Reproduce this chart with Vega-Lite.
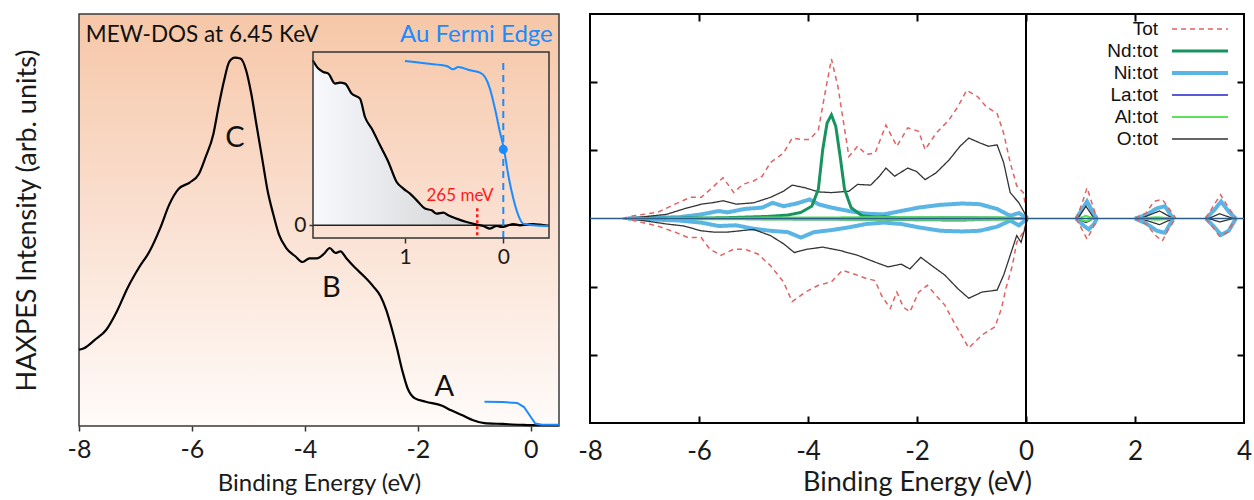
{
  "$schema": "https://vega.github.io/schema/vega-lite/v6.json",
  "padding": {"left": 12, "top": 12, "right": 2, "bottom": 0},
  "background": "white",
  "bounds": "flush",
  "spacing": 31,
  "resolve": {
    "scale": {"color": "independent", "strokeDash": "independent", "strokeWidth": "independent"},
    "legend": {"color": "independent", "strokeDash": "independent", "strokeWidth": "independent"}
  },
  "config": {
    "font": "Lato",
    "axis": {"grid": false, "domain": false, "labelFont": "Lato", "titleFont": "Lato", "titleFontWeight": "normal", "labelColor": "#1a1a1a", "titleColor": "#1a1a1a", "tickColor": "#333333"},
    "legend": {"orient": "none", "legendX": 600.5, "legendY": 5.5, "title": null, "symbolType": "M-5.6,0H5.6", "symbolSize": 100, "labelFont": "Liberation Sans", "labelFontSize": 19, "labelColor": "#111111", "labelAlign": "right", "labelBaseline": "middle", "labelOffset": -51.5, "rowPadding": 2, "padding": 0, "labelLimit": 200}
  },
  "datasets": {
    "haxpes": [
      {"be": -8.0, "i": 18.5}, {"be": -7.91, "i": 18.9}, {"be": -7.72, "i": 20.9}, {"be": -7.52, "i": 23.3}, {"be": -7.33, "i": 27.8},
      {"be": -7.14, "i": 33.5}, {"be": -6.94, "i": 38.4}, {"be": -6.75, "i": 42.4}, {"be": -6.56, "i": 48.1}, {"be": -6.4, "i": 53.8},
      {"be": -6.24, "i": 57.5}, {"be": -6.04, "i": 59.1}, {"be": -5.88, "i": 61.1}, {"be": -5.76, "i": 65.2}, {"be": -5.62, "i": 70.9},
      {"be": -5.53, "i": 77.4}, {"be": -5.43, "i": 83.9}, {"be": -5.34, "i": 88.4}, {"be": -5.24, "i": 89.4}, {"be": -5.14, "i": 89.2},
      {"be": -5.04, "i": 86.3}, {"be": -4.95, "i": 80.7}, {"be": -4.85, "i": 72.5}, {"be": -4.75, "i": 64.4}, {"be": -4.66, "i": 57.1},
      {"be": -4.56, "i": 51.4}, {"be": -4.46, "i": 46.5}, {"be": -4.33, "i": 43.2}, {"be": -4.17, "i": 41.2}, {"be": -4.04, "i": 39.8},
      {"be": -3.92, "i": 40.7}, {"be": -3.79, "i": 40.7}, {"be": -3.66, "i": 41.8}, {"be": -3.56, "i": 43.2}, {"be": -3.46, "i": 42.0},
      {"be": -3.37, "i": 42.4}, {"be": -3.27, "i": 40.8}, {"be": -3.11, "i": 38.4}, {"be": -2.95, "i": 36.3}, {"be": -2.79, "i": 33.9},
      {"be": -2.66, "i": 31.5}, {"be": -2.56, "i": 28.2}, {"be": -2.47, "i": 24.1}, {"be": -2.37, "i": 18.9}, {"be": -2.27, "i": 13.2},
      {"be": -2.18, "i": 9.1}, {"be": -2.05, "i": 6.7}, {"be": -1.86, "i": 5.9}, {"be": -1.57, "i": 4.9}, {"be": -1.41, "i": 3.8},
      {"be": -1.21, "i": 2.6}, {"be": -1.02, "i": 1.4}, {"be": -0.82, "i": 0.7}, {"be": -0.5, "i": 0.5}, {"be": -0.18, "i": 0.3},
      {"be": 0.08, "i": 0.2}, {"be": 0.5, "i": 0.2}
    ],
    "au_main": [
      {"be": -0.82, "i": 5.9}, {"be": -0.5, "i": 5.8}, {"be": -0.24, "i": 5.6}, {"be": -0.12, "i": 4.6}, {"be": -0.02, "i": 2.6},
      {"be": 0.08, "i": 0.6}, {"be": 0.2, "i": 0.3}, {"be": 0.5, "i": 0.3}
    ],
    "peaks": [
      {"t": "C", "be": -5.24, "i": 69.8}, {"t": "B", "be": -3.53, "i": 33.4}, {"t": "A", "be": -1.53, "i": 9.5}
    ],
    "inset_black": [
      {"ie": 1.939, "ii": 165.0}, {"ie": 1.882, "ii": 156.7}, {"ie": 1.831, "ii": 153.3}, {"ie": 1.78, "ii": 151.7}, {"ie": 1.712, "ii": 141.7},
      {"ie": 1.661, "ii": 142.6}, {"ie": 1.61, "ii": 141.7}, {"ie": 1.543, "ii": 131.7}, {"ie": 1.458, "ii": 126.7}, {"ie": 1.407, "ii": 108.3},
      {"ie": 1.339, "ii": 96.7}, {"ie": 1.254, "ii": 80.0}, {"ie": 1.169, "ii": 63.3}, {"ie": 1.085, "ii": 43.3}, {"ie": 1.017, "ii": 36.7},
      {"ie": 0.949, "ii": 31.7}, {"ie": 0.865, "ii": 23.3}, {"ie": 0.797, "ii": 16.7}, {"ie": 0.729, "ii": 15.0}, {"ie": 0.678, "ii": 11.7},
      {"ie": 0.61, "ii": 12.7}, {"ie": 0.56, "ii": 10.0}, {"ie": 0.475, "ii": 6.7}, {"ie": 0.373, "ii": 3.3}, {"ie": 0.271, "ii": 0.7},
      {"ie": 0.203, "ii": -0.7}, {"ie": 0.135, "ii": -3.3}, {"ie": 0.068, "ii": -0.7}, {"ie": 0.017, "ii": -1.7}, {"ie": -0.034, "ii": -0.7},
      {"ie": -0.102, "ii": 1.3}, {"ie": -0.17, "ii": 0.0}, {"ie": -0.237, "ii": 0.7}, {"ie": -0.305, "ii": 1.3}, {"ie": -0.373, "ii": 0.7},
      {"ie": -0.458, "ii": -0.7}
    ],
    "inset_blue": [
      {"ie": 1.0, "ii": 164.3}, {"ie": 0.78, "ii": 161.7}, {"ie": 0.577, "ii": 159.3}, {"ie": 0.509, "ii": 156.0}, {"ie": 0.458, "ii": 158.3},
      {"ie": 0.339, "ii": 155.0}, {"ie": 0.237, "ii": 152.7}, {"ie": 0.186, "ii": 148.3}, {"ie": 0.136, "ii": 136.7}, {"ie": 0.085, "ii": 116.7},
      {"ie": 0.034, "ii": 93.3}, {"ie": -0.007, "ii": 76.0}, {"ie": -0.051, "ii": 50.0}, {"ie": -0.102, "ii": 26.7}, {"ie": -0.153, "ii": 10.0},
      {"ie": -0.203, "ii": 1.7}, {"ie": -0.305, "ii": 0.0}, {"ie": -0.458, "ii": -0.7}
    ],
    "dos": [
      {"s": "Ni:tot", "g": "u0", "e": -7.3, "d": 0}, {"s": "Ni:tot", "g": "u0", "e": -6.36, "d": 0.02}, {"s": "Ni:tot", "g": "u0", "e": -5.96, "d": 0.06}, {"s": "Ni:tot", "g": "u0", "e": -5.64, "d": 0.11}, {"s": "Ni:tot", "g": "u0", "e": -5.48, "d": 0.09}, {"s": "Ni:tot", "g": "u0", "e": -5.16, "d": 0.14}, {"s": "Ni:tot", "g": "u0", "e": -4.84, "d": 0.16}, {"s": "Ni:tot", "g": "u0", "e": -4.65, "d": 0.23}, {"s": "Ni:tot", "g": "u0", "e": -4.45, "d": 0.18}, {"s": "Ni:tot", "g": "u0", "e": -4.21, "d": 0.22}, {"s": "Ni:tot", "g": "u0", "e": -3.97, "d": 0.28}, {"s": "Ni:tot", "g": "u0", "e": -3.81, "d": 0.21}, {"s": "Ni:tot", "g": "u0", "e": -3.57, "d": 0.16}, {"s": "Ni:tot", "g": "u0", "e": -3.25, "d": 0.11}, {"s": "Ni:tot", "g": "u0", "e": -2.93, "d": 0.07}, {"s": "Ni:tot", "g": "u0", "e": -2.61, "d": 0.06}, {"s": "Ni:tot", "g": "u0", "e": -2.29, "d": 0.11}, {"s": "Ni:tot", "g": "u0", "e": -1.97, "d": 0.16}, {"s": "Ni:tot", "g": "u0", "e": -1.57, "d": 0.2}, {"s": "Ni:tot", "g": "u0", "e": -1.17, "d": 0.22}, {"s": "Ni:tot", "g": "u0", "e": -0.85, "d": 0.21}, {"s": "Ni:tot", "g": "u0", "e": -0.53, "d": 0.14}, {"s": "Ni:tot", "g": "u0", "e": -0.29, "d": 0.04}, {"s": "Ni:tot", "g": "u0", "e": -0.13, "d": 0.08}, {"s": "Ni:tot", "g": "u0", "e": 0.03, "d": 0},
      {"s": "Ni:tot", "g": "d0", "e": -7.3, "d": 0}, {"s": "Ni:tot", "g": "d0", "e": -6.36, "d": -0.03}, {"s": "Ni:tot", "g": "d0", "e": -5.96, "d": -0.06}, {"s": "Ni:tot", "g": "d0", "e": -5.64, "d": -0.11}, {"s": "Ni:tot", "g": "d0", "e": -5.32, "d": -0.1}, {"s": "Ni:tot", "g": "d0", "e": -5.0, "d": -0.15}, {"s": "Ni:tot", "g": "d0", "e": -4.69, "d": -0.18}, {"s": "Ni:tot", "g": "d0", "e": -4.37, "d": -0.2}, {"s": "Ni:tot", "g": "d0", "e": -4.13, "d": -0.28}, {"s": "Ni:tot", "g": "d0", "e": -3.89, "d": -0.2}, {"s": "Ni:tot", "g": "d0", "e": -3.57, "d": -0.17}, {"s": "Ni:tot", "g": "d0", "e": -3.25, "d": -0.13}, {"s": "Ni:tot", "g": "d0", "e": -2.93, "d": -0.08}, {"s": "Ni:tot", "g": "d0", "e": -2.61, "d": -0.06}, {"s": "Ni:tot", "g": "d0", "e": -2.29, "d": -0.08}, {"s": "Ni:tot", "g": "d0", "e": -1.97, "d": -0.13}, {"s": "Ni:tot", "g": "d0", "e": -1.57, "d": -0.18}, {"s": "Ni:tot", "g": "d0", "e": -1.17, "d": -0.19}, {"s": "Ni:tot", "g": "d0", "e": -0.85, "d": -0.18}, {"s": "Ni:tot", "g": "d0", "e": -0.53, "d": -0.12}, {"s": "Ni:tot", "g": "d0", "e": -0.29, "d": -0.03}, {"s": "Ni:tot", "g": "d0", "e": -0.13, "d": -0.1}, {"s": "Ni:tot", "g": "d0", "e": 0.03, "d": 0},
      {"s": "Ni:tot", "g": "u1", "e": 0.92, "d": 0}, {"s": "Ni:tot", "g": "u1", "e": 1.02, "d": 0.12}, {"s": "Ni:tot", "g": "u1", "e": 1.12, "d": 0.25}, {"s": "Ni:tot", "g": "u1", "e": 1.22, "d": 0.1}, {"s": "Ni:tot", "g": "u1", "e": 1.3, "d": 0},
      {"s": "Ni:tot", "g": "d1", "e": 0.92, "d": 0}, {"s": "Ni:tot", "g": "d1", "e": 1.05, "d": -0.1}, {"s": "Ni:tot", "g": "d1", "e": 1.15, "d": -0.16}, {"s": "Ni:tot", "g": "d1", "e": 1.25, "d": -0.08}, {"s": "Ni:tot", "g": "d1", "e": 1.3, "d": 0},
      {"s": "Ni:tot", "g": "u2", "e": 2.0, "d": 0}, {"s": "Ni:tot", "g": "u2", "e": 2.2, "d": 0.05}, {"s": "Ni:tot", "g": "u2", "e": 2.4, "d": 0.15}, {"s": "Ni:tot", "g": "u2", "e": 2.55, "d": 0.18}, {"s": "Ni:tot", "g": "u2", "e": 2.7, "d": 0},
      {"s": "Ni:tot", "g": "d2", "e": 2.0, "d": 0}, {"s": "Ni:tot", "g": "d2", "e": 2.2, "d": -0.07}, {"s": "Ni:tot", "g": "d2", "e": 2.4, "d": -0.18}, {"s": "Ni:tot", "g": "d2", "e": 2.55, "d": -0.21}, {"s": "Ni:tot", "g": "d2", "e": 2.7, "d": 0},
      {"s": "Ni:tot", "g": "u3", "e": 3.3, "d": 0}, {"s": "Ni:tot", "g": "u3", "e": 3.45, "d": 0.12}, {"s": "Ni:tot", "g": "u3", "e": 3.58, "d": 0.25}, {"s": "Ni:tot", "g": "u3", "e": 3.72, "d": 0.1}, {"s": "Ni:tot", "g": "u3", "e": 3.85, "d": 0},
      {"s": "Ni:tot", "g": "d3", "e": 3.3, "d": 0}, {"s": "Ni:tot", "g": "d3", "e": 3.45, "d": -0.12}, {"s": "Ni:tot", "g": "d3", "e": 3.58, "d": -0.24}, {"s": "Ni:tot", "g": "d3", "e": 3.72, "d": -0.18}, {"s": "Ni:tot", "g": "d3", "e": 3.85, "d": 0},

      {"s": "Tot", "g": "u0", "e": -7.4, "d": 0}, {"s": "Tot", "g": "u0", "e": -7.2, "d": 0.04}, {"s": "Tot", "g": "u0", "e": -6.76, "d": 0.09}, {"s": "Tot", "g": "u0", "e": -6.44, "d": 0.21}, {"s": "Tot", "g": "u0", "e": -6.16, "d": 0.31}, {"s": "Tot", "g": "u0", "e": -5.96, "d": 0.31}, {"s": "Tot", "g": "u0", "e": -5.76, "d": 0.45}, {"s": "Tot", "g": "u0", "e": -5.56, "d": 0.6}, {"s": "Tot", "g": "u0", "e": -5.36, "d": 0.38}, {"s": "Tot", "g": "u0", "e": -5.2, "d": 0.5}, {"s": "Tot", "g": "u0", "e": -5.0, "d": 0.55}, {"s": "Tot", "g": "u0", "e": -4.84, "d": 0.62}, {"s": "Tot", "g": "u0", "e": -4.69, "d": 0.82}, {"s": "Tot", "g": "u0", "e": -4.45, "d": 0.96}, {"s": "Tot", "g": "u0", "e": -4.29, "d": 1.18}, {"s": "Tot", "g": "u0", "e": -4.13, "d": 1.16}, {"s": "Tot", "g": "u0", "e": -3.97, "d": 1.16}, {"s": "Tot", "g": "u0", "e": -3.81, "d": 1.3}, {"s": "Tot", "g": "u0", "e": -3.69, "d": 1.83}, {"s": "Tot", "g": "u0", "e": -3.57, "d": 2.34}, {"s": "Tot", "g": "u0", "e": -3.45, "d": 1.93}, {"s": "Tot", "g": "u0", "e": -3.25, "d": 0.91}, {"s": "Tot", "g": "u0", "e": -3.09, "d": 1.06}, {"s": "Tot", "g": "u0", "e": -2.93, "d": 0.94}, {"s": "Tot", "g": "u0", "e": -2.77, "d": 0.96}, {"s": "Tot", "g": "u0", "e": -2.57, "d": 1.37}, {"s": "Tot", "g": "u0", "e": -2.37, "d": 1.06}, {"s": "Tot", "g": "u0", "e": -2.17, "d": 1.33}, {"s": "Tot", "g": "u0", "e": -1.97, "d": 1.28}, {"s": "Tot", "g": "u0", "e": -1.85, "d": 1.01}, {"s": "Tot", "g": "u0", "e": -1.65, "d": 1.25}, {"s": "Tot", "g": "u0", "e": -1.41, "d": 1.45}, {"s": "Tot", "g": "u0", "e": -1.25, "d": 1.64}, {"s": "Tot", "g": "u0", "e": -1.09, "d": 1.88}, {"s": "Tot", "g": "u0", "e": -0.89, "d": 1.79}, {"s": "Tot", "g": "u0", "e": -0.73, "d": 1.64}, {"s": "Tot", "g": "u0", "e": -0.53, "d": 1.54}, {"s": "Tot", "g": "u0", "e": -0.41, "d": 1.25}, {"s": "Tot", "g": "u0", "e": -0.29, "d": 0.82}, {"s": "Tot", "g": "u0", "e": -0.17, "d": 0.48}, {"s": "Tot", "g": "u0", "e": -0.05, "d": 0.38}, {"s": "Tot", "g": "u0", "e": 0.03, "d": 0},
      {"s": "Tot", "g": "d0", "e": -7.4, "d": 0}, {"s": "Tot", "g": "d0", "e": -7.2, "d": -0.03}, {"s": "Tot", "g": "d0", "e": -6.76, "d": -0.11}, {"s": "Tot", "g": "d0", "e": -6.44, "d": -0.2}, {"s": "Tot", "g": "d0", "e": -6.2, "d": -0.28}, {"s": "Tot", "g": "d0", "e": -5.96, "d": -0.28}, {"s": "Tot", "g": "d0", "e": -5.8, "d": -0.45}, {"s": "Tot", "g": "d0", "e": -5.6, "d": -0.54}, {"s": "Tot", "g": "d0", "e": -5.36, "d": -0.45}, {"s": "Tot", "g": "d0", "e": -5.16, "d": -0.45}, {"s": "Tot", "g": "d0", "e": -4.92, "d": -0.52}, {"s": "Tot", "g": "d0", "e": -4.69, "d": -0.69}, {"s": "Tot", "g": "d0", "e": -4.45, "d": -0.93}, {"s": "Tot", "g": "d0", "e": -4.29, "d": -1.22}, {"s": "Tot", "g": "d0", "e": -4.05, "d": -1.08}, {"s": "Tot", "g": "d0", "e": -3.81, "d": -0.98}, {"s": "Tot", "g": "d0", "e": -3.57, "d": -0.93}, {"s": "Tot", "g": "d0", "e": -3.37, "d": -0.76}, {"s": "Tot", "g": "d0", "e": -3.17, "d": -0.81}, {"s": "Tot", "g": "d0", "e": -2.93, "d": -0.88}, {"s": "Tot", "g": "d0", "e": -2.77, "d": -0.91}, {"s": "Tot", "g": "d0", "e": -2.65, "d": -1.13}, {"s": "Tot", "g": "d0", "e": -2.49, "d": -1.32}, {"s": "Tot", "g": "d0", "e": -2.37, "d": -1.08}, {"s": "Tot", "g": "d0", "e": -2.25, "d": -1.3}, {"s": "Tot", "g": "d0", "e": -2.13, "d": -1.37}, {"s": "Tot", "g": "d0", "e": -1.97, "d": -1.08}, {"s": "Tot", "g": "d0", "e": -1.81, "d": -0.98}, {"s": "Tot", "g": "d0", "e": -1.65, "d": -1.13}, {"s": "Tot", "g": "d0", "e": -1.49, "d": -1.27}, {"s": "Tot", "g": "d0", "e": -1.33, "d": -1.51}, {"s": "Tot", "g": "d0", "e": -1.05, "d": -1.9}, {"s": "Tot", "g": "d0", "e": -0.81, "d": -1.71}, {"s": "Tot", "g": "d0", "e": -0.57, "d": -1.59}, {"s": "Tot", "g": "d0", "e": -0.45, "d": -1.32}, {"s": "Tot", "g": "d0", "e": -0.37, "d": -1.03}, {"s": "Tot", "g": "d0", "e": -0.25, "d": -0.69}, {"s": "Tot", "g": "d0", "e": -0.17, "d": -0.35}, {"s": "Tot", "g": "d0", "e": -0.05, "d": -0.2}, {"s": "Tot", "g": "d0", "e": 0.03, "d": 0},
      {"s": "Tot", "g": "u1", "e": 0.92, "d": 0}, {"s": "Tot", "g": "u1", "e": 1.02, "d": 0.2}, {"s": "Tot", "g": "u1", "e": 1.12, "d": 0.45}, {"s": "Tot", "g": "u1", "e": 1.22, "d": 0.2}, {"s": "Tot", "g": "u1", "e": 1.3, "d": 0},
      {"s": "Tot", "g": "d1", "e": 0.92, "d": 0}, {"s": "Tot", "g": "d1", "e": 1.02, "d": -0.15}, {"s": "Tot", "g": "d1", "e": 1.12, "d": -0.3}, {"s": "Tot", "g": "d1", "e": 1.22, "d": -0.15}, {"s": "Tot", "g": "d1", "e": 1.3, "d": 0},
      {"s": "Tot", "g": "u2", "e": 2.0, "d": 0}, {"s": "Tot", "g": "u2", "e": 2.2, "d": 0.08}, {"s": "Tot", "g": "u2", "e": 2.35, "d": 0.25}, {"s": "Tot", "g": "u2", "e": 2.5, "d": 0.28}, {"s": "Tot", "g": "u2", "e": 2.65, "d": 0.12}, {"s": "Tot", "g": "u2", "e": 2.75, "d": 0},
      {"s": "Tot", "g": "d2", "e": 2.0, "d": 0}, {"s": "Tot", "g": "d2", "e": 2.2, "d": -0.08}, {"s": "Tot", "g": "d2", "e": 2.38, "d": -0.25}, {"s": "Tot", "g": "d2", "e": 2.5, "d": -0.33}, {"s": "Tot", "g": "d2", "e": 2.62, "d": -0.15}, {"s": "Tot", "g": "d2", "e": 2.75, "d": 0},
      {"s": "Tot", "g": "u3", "e": 3.3, "d": 0}, {"s": "Tot", "g": "u3", "e": 3.45, "d": 0.2}, {"s": "Tot", "g": "u3", "e": 3.57, "d": 0.35}, {"s": "Tot", "g": "u3", "e": 3.7, "d": 0.18}, {"s": "Tot", "g": "u3", "e": 3.85, "d": 0},
      {"s": "Tot", "g": "d3", "e": 3.3, "d": 0}, {"s": "Tot", "g": "d3", "e": 3.45, "d": -0.15}, {"s": "Tot", "g": "d3", "e": 3.55, "d": -0.26}, {"s": "Tot", "g": "d3", "e": 3.7, "d": -0.2}, {"s": "Tot", "g": "d3", "e": 3.85, "d": 0},

      {"s": "O:tot", "g": "u0", "e": -7.2, "d": 0.01}, {"s": "O:tot", "g": "u0", "e": -6.6, "d": 0.06}, {"s": "O:tot", "g": "u0", "e": -6.28, "d": 0.14}, {"s": "O:tot", "g": "u0", "e": -5.96, "d": 0.21}, {"s": "O:tot", "g": "u0", "e": -5.76, "d": 0.23}, {"s": "O:tot", "g": "u0", "e": -5.56, "d": 0.26}, {"s": "O:tot", "g": "u0", "e": -5.32, "d": 0.21}, {"s": "O:tot", "g": "u0", "e": -5.0, "d": 0.23}, {"s": "O:tot", "g": "u0", "e": -4.69, "d": 0.31}, {"s": "O:tot", "g": "u0", "e": -4.45, "d": 0.4}, {"s": "O:tot", "g": "u0", "e": -4.29, "d": 0.49}, {"s": "O:tot", "g": "u0", "e": -4.05, "d": 0.45}, {"s": "O:tot", "g": "u0", "e": -3.81, "d": 0.39}, {"s": "O:tot", "g": "u0", "e": -3.57, "d": 0.38}, {"s": "O:tot", "g": "u0", "e": -3.25, "d": 0.4}, {"s": "O:tot", "g": "u0", "e": -3.09, "d": 0.5}, {"s": "O:tot", "g": "u0", "e": -2.85, "d": 0.49}, {"s": "O:tot", "g": "u0", "e": -2.69, "d": 0.62}, {"s": "O:tot", "g": "u0", "e": -2.57, "d": 0.74}, {"s": "O:tot", "g": "u0", "e": -2.41, "d": 0.62}, {"s": "O:tot", "g": "u0", "e": -2.17, "d": 0.74}, {"s": "O:tot", "g": "u0", "e": -2.01, "d": 0.69}, {"s": "O:tot", "g": "u0", "e": -1.85, "d": 0.57}, {"s": "O:tot", "g": "u0", "e": -1.65, "d": 0.67}, {"s": "O:tot", "g": "u0", "e": -1.41, "d": 0.86}, {"s": "O:tot", "g": "u0", "e": -1.21, "d": 1.06}, {"s": "O:tot", "g": "u0", "e": -1.05, "d": 1.18}, {"s": "O:tot", "g": "u0", "e": -0.85, "d": 1.11}, {"s": "O:tot", "g": "u0", "e": -0.69, "d": 1.06}, {"s": "O:tot", "g": "u0", "e": -0.53, "d": 1.08}, {"s": "O:tot", "g": "u0", "e": -0.41, "d": 0.82}, {"s": "O:tot", "g": "u0", "e": -0.29, "d": 0.38}, {"s": "O:tot", "g": "u0", "e": -0.13, "d": 0.23}, {"s": "O:tot", "g": "u0", "e": 0.03, "d": 0},
      {"s": "O:tot", "g": "d0", "e": -7.2, "d": -0.01}, {"s": "O:tot", "g": "d0", "e": -6.6, "d": -0.08}, {"s": "O:tot", "g": "d0", "e": -6.28, "d": -0.11}, {"s": "O:tot", "g": "d0", "e": -5.96, "d": -0.18}, {"s": "O:tot", "g": "d0", "e": -5.72, "d": -0.2}, {"s": "O:tot", "g": "d0", "e": -5.48, "d": -0.2}, {"s": "O:tot", "g": "d0", "e": -5.24, "d": -0.18}, {"s": "O:tot", "g": "d0", "e": -5.0, "d": -0.16}, {"s": "O:tot", "g": "d0", "e": -4.69, "d": -0.25}, {"s": "O:tot", "g": "d0", "e": -4.45, "d": -0.37}, {"s": "O:tot", "g": "d0", "e": -4.25, "d": -0.5}, {"s": "O:tot", "g": "d0", "e": -4.01, "d": -0.45}, {"s": "O:tot", "g": "d0", "e": -3.73, "d": -0.42}, {"s": "O:tot", "g": "d0", "e": -3.41, "d": -0.47}, {"s": "O:tot", "g": "d0", "e": -3.09, "d": -0.54}, {"s": "O:tot", "g": "d0", "e": -2.77, "d": -0.64}, {"s": "O:tot", "g": "d0", "e": -2.53, "d": -0.71}, {"s": "O:tot", "g": "d0", "e": -2.29, "d": -0.67}, {"s": "O:tot", "g": "d0", "e": -2.13, "d": -0.74}, {"s": "O:tot", "g": "d0", "e": -1.93, "d": -0.57}, {"s": "O:tot", "g": "d0", "e": -1.73, "d": -0.69}, {"s": "O:tot", "g": "d0", "e": -1.49, "d": -0.83}, {"s": "O:tot", "g": "d0", "e": -1.25, "d": -1.03}, {"s": "O:tot", "g": "d0", "e": -1.05, "d": -1.17}, {"s": "O:tot", "g": "d0", "e": -0.81, "d": -1.08}, {"s": "O:tot", "g": "d0", "e": -0.53, "d": -1.05}, {"s": "O:tot", "g": "d0", "e": -0.41, "d": -0.83}, {"s": "O:tot", "g": "d0", "e": -0.29, "d": -0.54}, {"s": "O:tot", "g": "d0", "e": -0.17, "d": -0.25}, {"s": "O:tot", "g": "d0", "e": -0.09, "d": -0.35}, {"s": "O:tot", "g": "d0", "e": 0.03, "d": 0},
      {"s": "O:tot", "g": "u1", "e": 0.95, "d": 0}, {"s": "O:tot", "g": "u1", "e": 1.1, "d": 0.18}, {"s": "O:tot", "g": "u1", "e": 1.25, "d": 0},
      {"s": "O:tot", "g": "d1", "e": 0.95, "d": 0}, {"s": "O:tot", "g": "d1", "e": 1.1, "d": -0.06}, {"s": "O:tot", "g": "d1", "e": 1.25, "d": 0},
      {"s": "O:tot", "g": "u2", "e": 2.1, "d": 0}, {"s": "O:tot", "g": "u2", "e": 2.45, "d": 0.11}, {"s": "O:tot", "g": "u2", "e": 2.7, "d": 0},
      {"s": "O:tot", "g": "d2", "e": 2.1, "d": 0}, {"s": "O:tot", "g": "d2", "e": 2.45, "d": -0.09}, {"s": "O:tot", "g": "d2", "e": 2.7, "d": 0},
      {"s": "O:tot", "g": "u3", "e": 3.35, "d": 0}, {"s": "O:tot", "g": "u3", "e": 3.55, "d": 0.07}, {"s": "O:tot", "g": "u3", "e": 3.8, "d": 0},
      {"s": "O:tot", "g": "d3", "e": 3.35, "d": 0}, {"s": "O:tot", "g": "d3", "e": 3.55, "d": -0.05}, {"s": "O:tot", "g": "d3", "e": 3.8, "d": 0},

      {"s": "La:tot", "g": "u0", "e": -7.3, "d": 0}, {"s": "La:tot", "g": "u0", "e": -4.0, "d": 0.005}, {"s": "La:tot", "g": "u0", "e": -2.9, "d": 0.01}, {"s": "La:tot", "g": "u0", "e": -2.6, "d": 0.035}, {"s": "La:tot", "g": "u0", "e": -2.3, "d": 0.01}, {"s": "La:tot", "g": "u0", "e": -1.2, "d": 0.02}, {"s": "La:tot", "g": "u0", "e": -0.3, "d": 0.01}, {"s": "La:tot", "g": "u0", "e": 0.03, "d": 0},
      {"s": "La:tot", "g": "d0", "e": -7.3, "d": 0}, {"s": "La:tot", "g": "d0", "e": -2.6, "d": -0.02}, {"s": "La:tot", "g": "d0", "e": -1.2, "d": -0.03}, {"s": "La:tot", "g": "d0", "e": 0.03, "d": 0},

      {"s": "Nd:tot", "g": "u0", "e": -7.2, "d": 0}, {"s": "Nd:tot", "g": "u0", "e": -5.56, "d": 0.01}, {"s": "Nd:tot", "g": "u0", "e": -4.76, "d": 0.03}, {"s": "Nd:tot", "g": "u0", "e": -4.37, "d": 0.05}, {"s": "Nd:tot", "g": "u0", "e": -4.13, "d": 0.09}, {"s": "Nd:tot", "g": "u0", "e": -3.93, "d": 0.18}, {"s": "Nd:tot", "g": "u0", "e": -3.81, "d": 0.43}, {"s": "Nd:tot", "g": "u0", "e": -3.73, "d": 1.01}, {"s": "Nd:tot", "g": "u0", "e": -3.65, "d": 1.4}, {"s": "Nd:tot", "g": "u0", "e": -3.57, "d": 1.52}, {"s": "Nd:tot", "g": "u0", "e": -3.49, "d": 1.35}, {"s": "Nd:tot", "g": "u0", "e": -3.41, "d": 0.91}, {"s": "Nd:tot", "g": "u0", "e": -3.33, "d": 0.43}, {"s": "Nd:tot", "g": "u0", "e": -3.21, "d": 0.16}, {"s": "Nd:tot", "g": "u0", "e": -3.01, "d": 0.04}, {"s": "Nd:tot", "g": "u0", "e": -2.61, "d": 0.01}, {"s": "Nd:tot", "g": "u0", "e": 0.03, "d": 0},

      {"s": "Al:tot", "g": "u0", "e": -7.3, "d": 0}, {"s": "Al:tot", "g": "u0", "e": -6.0, "d": 0.01}, {"s": "Al:tot", "g": "u0", "e": -4.0, "d": 0.015}, {"s": "Al:tot", "g": "u0", "e": -2.0, "d": 0.02}, {"s": "Al:tot", "g": "u0", "e": -0.5, "d": 0.02}, {"s": "Al:tot", "g": "u0", "e": 0.03, "d": 0},
      {"s": "Al:tot", "g": "d0", "e": -7.3, "d": 0}, {"s": "Al:tot", "g": "d0", "e": -6.0, "d": -0.01}, {"s": "Al:tot", "g": "d0", "e": -4.0, "d": -0.015}, {"s": "Al:tot", "g": "d0", "e": -2.0, "d": -0.02}, {"s": "Al:tot", "g": "d0", "e": -0.5, "d": -0.02}, {"s": "Al:tot", "g": "d0", "e": 0.03, "d": 0},
      {"s": "Al:tot", "g": "u1", "e": 0.95, "d": 0}, {"s": "Al:tot", "g": "u1", "e": 1.1, "d": 0.04}, {"s": "Al:tot", "g": "u1", "e": 1.25, "d": 0},
      {"s": "Al:tot", "g": "d1", "e": 0.95, "d": 0}, {"s": "Al:tot", "g": "d1", "e": 1.1, "d": -0.04}, {"s": "Al:tot", "g": "d1", "e": 1.25, "d": 0},
      {"s": "Al:tot", "g": "u2", "e": 2.1, "d": 0}, {"s": "Al:tot", "g": "u2", "e": 2.4, "d": 0.02}, {"s": "Al:tot", "g": "u2", "e": 2.7, "d": 0},
      {"s": "Al:tot", "g": "d2", "e": 2.1, "d": 0}, {"s": "Al:tot", "g": "d2", "e": 2.4, "d": -0.02}, {"s": "Al:tot", "g": "d2", "e": 2.7, "d": 0}
    ]
  },
  "hconcat": [
    {
      "width": 480,
      "height": 412,
      "view": {
        "fill": {"gradient": "linear", "x1": 0, "y1": 0, "x2": 0, "y2": 1, "stops": [{"offset": 0, "color": "#f6c7a8"}, {"offset": 0.5, "color": "#fae0d1"}, {"offset": 1, "color": "#fffbf9"}]},
        "stroke": "#3a3a3a",
        "strokeWidth": 1.5
      },
      "layer": [
        {
          "layer": [
            {
              "data": {"name": "haxpes"},
              "mark": {"type": "line", "color": "#000000", "strokeWidth": 2.2, "interpolate": "monotone"},
              "encoding": {
                "x": {"field": "be", "type": "quantitative", "scale": {"domain": [-8, 0.5], "nice": false, "zero": false},
                  "axis": {"orient": "bottom", "values": [-8, -6, -4, -2, 0], "title": "Binding Energy (eV)", "labelFontSize": 25, "titleFontSize": 24, "tickSize": 5, "tickWidth": 1.5, "labelPadding": 6, "titlePadding": 9, "labelFlush": false, "labelExpr": "datum.value < 0 ? '-' + (-datum.value) : '' + datum.value"}},
                "y": {"field": "i", "type": "quantitative", "scale": {"domain": [0, 100], "nice": false},
                  "axis": {"orient": "left", "title": "HAXPES Intensity (arb. units)", "labels": false, "ticks": false, "titleFontSize": 27, "titlePadding": 38}}
              }
            },
            {
              "data": {"name": "au_main"},
              "mark": {"type": "line", "color": "#1a8cff", "strokeWidth": 2},
              "encoding": {"x": {"field": "be", "type": "quantitative"}, "y": {"field": "i", "type": "quantitative"}}
            },
            {
              "data": {"name": "peaks"},
              "mark": {"type": "text", "fontSize": 29, "font": "Lato", "color": "#111111", "baseline": "middle"},
              "encoding": {"x": {"field": "be", "type": "quantitative"}, "y": {"field": "i", "type": "quantitative"}, "text": {"field": "t"}}
            },
            {
              "data": {"values": [{"t": "MEW-DOS at 6.45 KeV", "be": -7.88, "i": 95}]},
              "mark": {"type": "text", "fontSize": 22.5, "font": "Lato", "color": "#111111", "align": "left", "baseline": "middle"},
              "encoding": {"x": {"field": "be", "type": "quantitative"}, "y": {"field": "i", "type": "quantitative"}, "text": {"field": "t"}}
            },
            {
              "data": {"values": [{"t": "Au Fermi Edge", "be": 0.39, "i": 95}]},
              "mark": {"type": "text", "fontSize": 24, "font": "Lato", "color": "#1a8cff", "align": "right", "baseline": "middle"},
              "encoding": {"x": {"field": "be", "type": "quantitative"}, "y": {"field": "i", "type": "quantitative"}, "text": {"field": "t"}}
            }
          ]
        },
        {
          "layer": [
            {
              "data": {"name": "inset_black"},
              "mark": {"type": "area", "opacity": 1, "color": {"gradient": "linear", "x1": 0, "y1": 0, "x2": 1, "y2": 0, "stops": [{"offset": 0, "color": "#f8f9fd"}, {"offset": 1, "color": "#c2c2c2"}]}},
              "encoding": {
                "x": {"field": "ie", "type": "quantitative", "scale": {"domain": [1.936, -0.465], "range": [234, 470], "nice": false, "zero": false},
                  "axis": {"orient": "bottom", "offset": -188, "values": [1, 0], "format": "d", "title": null, "labelFontSize": 21, "tickSize": 5, "tickWidth": 1.5, "labelPadding": 3}},
                "y": {"field": "ii", "type": "quantitative", "scale": {"domain": [-12.7, 173.3], "range": [224, 38], "nice": false, "zero": false},
                  "axis": {"orient": "left", "offset": -234, "values": [0], "format": "d", "title": null, "labelFontSize": 21, "tickSize": 4, "tickWidth": 1.5, "labelPadding": 3}},
                "y2": {"datum": 0}
              }
            },
            {
              "data": {"values": [{}]},
              "mark": {"type": "rule", "color": "#222222", "strokeWidth": 1.5},
              "encoding": {"x": {"datum": 1.936}, "x2": {"datum": -0.465}, "y": {"datum": 0}}
            },
            {
              "data": {"name": "inset_black"},
              "mark": {"type": "line", "color": "#000000", "strokeWidth": 2.2, "interpolate": "monotone"},
              "encoding": {"x": {"field": "ie", "type": "quantitative"}, "y": {"field": "ii", "type": "quantitative"}}
            },
            {
              "data": {"name": "inset_blue"},
              "mark": {"type": "line", "color": "#1a8cff", "strokeWidth": 2, "interpolate": "monotone"},
              "encoding": {"x": {"field": "ie", "type": "quantitative"}, "y": {"field": "ii", "type": "quantitative"}}
            },
            {
              "data": {"values": [{}]},
              "mark": {"type": "rule", "color": "#1a8cff", "strokeWidth": 2, "strokeDash": [7, 5]},
              "encoding": {"x": {"datum": 0}, "y": {"datum": -12.7}, "y2": {"datum": 165}}
            },
            {
              "data": {"values": [{}]},
              "mark": {"type": "rule", "color": "#ff1a1a", "strokeWidth": 2.5, "strokeDash": [3, 3]},
              "encoding": {"x": {"datum": 0.265}, "y": {"datum": -10}, "y2": {"datum": 17}}
            },
            {
              "data": {"values": [{"ie": 0, "ii": 76}]},
              "mark": {"type": "point", "filled": true, "color": "#1a8cff", "size": 80, "opacity": 1},
              "encoding": {"x": {"field": "ie", "type": "quantitative"}, "y": {"field": "ii", "type": "quantitative"}}
            },
            {
              "data": {"values": [{"t": "265 meV", "ie": 0.44, "ii": 29.3}]},
              "mark": {"type": "text", "fontSize": 17, "font": "Lato", "color": "#ff1a1a", "baseline": "middle"},
              "encoding": {"x": {"field": "ie", "type": "quantitative"}, "y": {"field": "ii", "type": "quantitative"}, "text": {"field": "t"}}
            },
            {
              "data": {"values": [{}]},
              "mark": {"type": "rect", "fill": null, "fillOpacity": 0, "stroke": "#333333", "strokeWidth": 1.5},
              "encoding": {"x": {"datum": 1.936}, "x2": {"datum": -0.465}, "y": {"datum": -12.7}, "y2": {"datum": 173.3}}
            }
          ]
        }
      ],
      "resolve": {"scale": {"x": "independent", "y": "independent"}, "axis": {"x": "independent", "y": "independent"}}
    },
    {
      "width": 654,
      "height": 409,
      "view": {"stroke": "#000000", "strokeWidth": 2},
      "layer": [
        {
          "data": {"name": "dos"},
          "mark": {"type": "line", "interpolate": "linear"},
          "encoding": {
            "x": {"field": "e", "type": "quantitative", "scale": {"domain": [-8, 4], "nice": false, "zero": false},
              "axis": {"orient": "bottom", "values": [-8, -6, -4, -2, 0, 2, 4], "ticks": false, "labelFontSize": 26, "labelPadding": 15, "title": "Binding Energy (eV)", "titleFontSize": 27, "titlePadding": 5, "labelFlush": false, "labelExpr": "datum.value < 0 ? '-' + (-datum.value) : '' + datum.value"}},
            "y": {"field": "d", "type": "quantitative", "scale": {"domain": [-3, 3], "nice": false},
              "axis": {"orient": "left", "values": [-2, -1, 1, 2], "labels": false, "title": null, "tickSize": -7, "tickWidth": 2, "tickColor": "#000000"}},
            "color": {"field": "s", "type": "nominal", "scale": {"domain": ["Tot", "Nd:tot", "Ni:tot", "La:tot", "Al:tot", "O:tot"], "range": ["#e06262", "#17935f", "#5ab4e4", "#5a5ad6", "#5ee05e", "#333333"]}},
            "strokeDash": {"field": "s", "type": "nominal", "scale": {"domain": ["Tot", "Nd:tot", "Ni:tot", "La:tot", "Al:tot", "O:tot"], "range": [[5, 4], [1, 0], [1, 0], [1, 0], [1, 0], [1, 0]]}},
            "strokeWidth": {"field": "s", "type": "nominal", "scale": {"type": "ordinal", "domain": ["Tot", "Nd:tot", "Ni:tot", "La:tot", "Al:tot", "O:tot"], "range": [1.5, 3, 4, 2, 2, 1.3]}},
            "detail": {"field": "g", "type": "nominal"}
          }
        },
        {
          "data": {"values": [{}]},
          "mark": {"type": "rule", "color": "#2a5d8a", "strokeWidth": 1.6},
          "encoding": {
            "x": {"datum": -8, "axis": {"orient": "bottom", "labels": false, "title": null, "values": [-6, -4, -2, 0, 2], "tickSize": -7, "tickWidth": 2, "tickColor": "#000000"}},
            "x2": {"datum": 4},
            "y": {"datum": 0, "axis": {"orient": "right", "labels": false, "title": null, "values": [-2, -1, 1, 2], "tickSize": -7, "tickWidth": 2, "tickColor": "#000000"}}
          }
        },
        {
          "data": {"values": [{}]},
          "mark": {"type": "rule", "color": "#000000", "strokeWidth": 2},
          "encoding": {
            "x": {"datum": 0, "axis": {"orient": "top", "labels": false, "title": null, "values": [-6, -4, -2, 0, 2], "tickSize": -7, "tickWidth": 2, "tickColor": "#000000"}}
          }
        }
      ],
      "resolve": {"axis": {"x": "independent", "y": "independent"}}
    }
  ]
}
